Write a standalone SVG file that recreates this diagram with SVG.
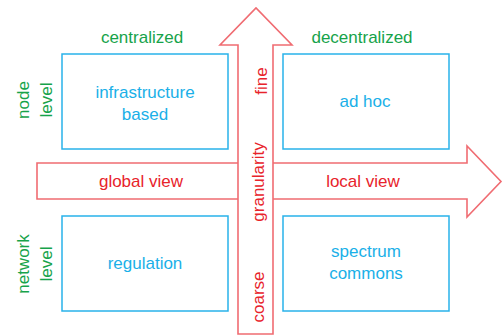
<svg xmlns="http://www.w3.org/2000/svg" width="503" height="336" viewBox="0 0 503 336">
<style>
text{font-family:"Liberation Sans",Arial,sans-serif;font-size:17px;text-anchor:middle}
.g{fill:#16a34a}
.b{fill:#1ab0e8}
.r{fill:#e8232b}
.box{fill:none;stroke:#29b2ea;stroke-width:1.5}
.arrow{fill:#fff;stroke:#f06c72;stroke-width:1.6}
</style>
<rect width="503" height="336" fill="#fff"/>
<g id="connectors">
<polygon id="h-arrow" class="arrow" points="37,163 467,163 467,146 501,181.5 467,217 467,199 37,199"/>
<polygon id="v-arrow" class="arrow" points="238,334 238,45 220,45 256,8 292,45 273,45 273,334"/>
<text class="r" x="141" y="187">global view</text>
<text class="r" x="363" y="187">local view</text>
<text class="r" transform="translate(267,81) rotate(-90)">fine</text>
<text class="r" transform="translate(264,182) rotate(-90)">granularity</text>
<text class="r" transform="translate(264,297) rotate(-90)">coarse</text>
</g>
<g id="labels">
<text class="g" x="142" y="43">centralized</text>
<text class="g" x="362" y="43">decentralized</text>
<text class="g" transform="translate(29,100) rotate(-90)">node</text>
<text class="g" transform="translate(52,100) rotate(-90)">level</text>
<text class="g" transform="translate(29,264) rotate(-90)">network</text>
<text class="g" transform="translate(52,264) rotate(-90)">level</text>
</g>
<g id="infrastructure-based">
<rect class="box" x="62" y="54" width="166" height="95"/>
<text class="b" x="145" y="98">infrastructure</text>
<text class="b" x="145" y="120">based</text>
</g>
<g id="ad-hoc">
<rect class="box" x="283" y="54" width="166" height="95"/>
<text class="b" x="365" y="107">ad hoc</text>
</g>
<g id="regulation">
<rect class="box" x="62" y="216" width="166" height="95"/>
<text class="b" x="145" y="269">regulation</text>
</g>
<g id="spectrum-commons">
<rect class="box" x="283" y="216" width="166" height="95"/>
<text class="b" x="366" y="257">spectrum</text>
<text class="b" x="366" y="279">commons</text>
</g>
</svg>
